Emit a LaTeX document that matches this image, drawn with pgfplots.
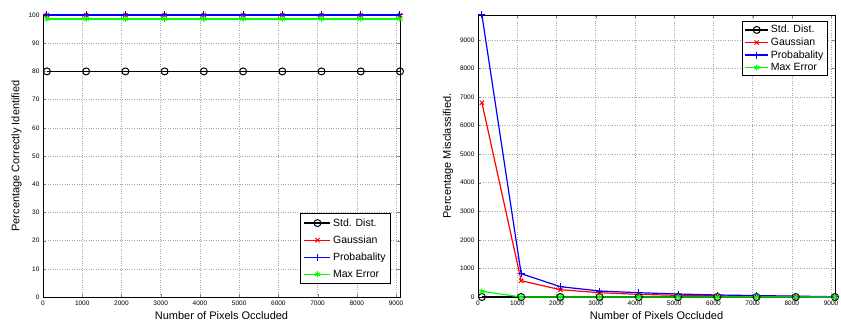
\documentclass[border=0pt]{standalone}
\usepackage{pgfplots}
\pgfplotsset{compat=1.18}
\usepackage{fontspec}
\setmainfont{Liberation Sans}
\definecolor{mgreen}{rgb}{0,1,0}
\definecolor{mblue}{rgb}{0,0,1}
\definecolor{mred}{rgb}{1,0,0}
\pgfplotsset{
  mat/.style={
    scale only axis, width=357pt, height=282pt,
    xmin=0, xmax=9100, xtick={0,1000,...,9000},
    grid=major, grid style={dotted, gray!70, line width=0.5pt},
    tick align=inside, major tick length=3pt,
    tick label style={font=\fontsize{6.5}{7.5}\selectfont},
    label style={font=\fontsize{11}{12}\selectfont},
    scaled ticks=false,
    /pgf/number format/assume math mode=true,
    /pgf/number format/set thousands separator={},
    axis line style={line width=0.8pt},
    every axis plot/.append style={line width=1.2pt},
    legend cell align=left,
    clip=false,
  },
  sd/.style={draw=black, mark=o, mark size=3.5pt, mark options={draw=black, line width=1pt}},
  ga/.style={draw=mred, mark=x, mark size=3pt, mark options={draw=mred, line width=1pt}},
  pr/.style={draw=mblue, mark=+, mark size=3.5pt, mark options={draw=mblue, line width=1pt}},
  me/.style={draw=mgreen, mark=asterisk, mark size=3pt, mark options={draw=mgreen, line width=1pt}},
}
\begin{document}
\begin{tikzpicture}[x=1pt,y=1pt]
\useasboundingbox (0,0) rectangle (841,327);
\begin{axis}[mat, at={(43pt,30pt)}, anchor=south west,
  ymin=0, ymax=100, ytick={0,10,...,100},
  xlabel={Number of Pixels Occluded},
  ylabel={Percentage Correctly Identified},
  legend style={at={(0.975,0.046)}, anchor=south east, line width=0.9pt,
    font=\fontsize{10.5}{11}\selectfont, row sep=4pt, inner sep=3pt},
  legend image code/.code={\draw[line width=1.3pt,mark repeat=2,mark phase=2] plot coordinates {(0pt,0pt)(13pt,0pt)(26pt,0pt)};},
]
\addplot[sd] coordinates {(100,80)(1100,80)(2100,80)(3100,80)(4100,80)(5100,80)(6100,80)(7100,80)(8100,80)(9100,80)};
\addlegendentry{Std. Dist.}
\addplot[ga] coordinates {(100,100)(1100,100)(2100,100)(3100,100)(4100,100)(5100,100)(6100,100)(7100,100)(8100,100)(9100,100)};
\addlegendentry{Gaussian}
\addplot[pr] coordinates {(100,100)(1100,100)(2100,100)(3100,100)(4100,100)(5100,100)(6100,100)(7100,100)(8100,100)(9100,100)};
\addlegendentry{Probabality}
\addplot[me] coordinates {(100,98.6)(1100,98.6)(2100,98.6)(3100,98.6)(4100,98.6)(5100,98.6)(6100,98.6)(7100,98.6)(8100,98.6)(9100,98.6)};
\addlegendentry{Max Error}
\end{axis}
\begin{axis}[mat, at={(478pt,30pt)}, anchor=south west,
  ymin=0, ymax=9870, ytick={0,1000,...,9000},
  xlabel={Number of Pixels Occluded},
  ylabel={Percentage Misclassified.},
  legend style={at={(0.980,0.979)}, anchor=north east, line width=0.9pt,
    font=\fontsize{10.5}{11}\selectfont, row sep=-0.5pt, inner sep=2pt},
  legend image code/.code={\draw[line width=1.3pt,mark repeat=2,mark phase=2] plot coordinates {(0pt,0pt)(11.5pt,0pt)(23pt,0pt)};},
]
\addplot[sd] coordinates {(100,0)(1100,0)(2100,0)(3100,0)(4100,0)(5100,0)(6100,0)(7100,0)(8100,0)(9100,0)};
\addlegendentry{Std. Dist.}
\addplot[ga] coordinates {(100,6800)(1100,570)(2100,256)(3100,150)(4100,93)(5100,58)(6100,40)(7100,25)(8100,15)(9100,5)};
\addlegendentry{Gaussian}
\addplot[pr] coordinates {(100,9870)(1100,816)(2100,361)(3100,210)(4100,150)(5100,105)(6100,70)(7100,50)(8100,30)(9100,10)};
\addlegendentry{Probabality}
\addplot[me] coordinates {(100,200)(1100,0)(2100,0)(3100,0)(4100,0)(5100,0)(6100,0)(7100,0)(8100,0)(9100,0)};
\addlegendentry{Max Error}
\end{axis}
\end{tikzpicture}
\end{document}
